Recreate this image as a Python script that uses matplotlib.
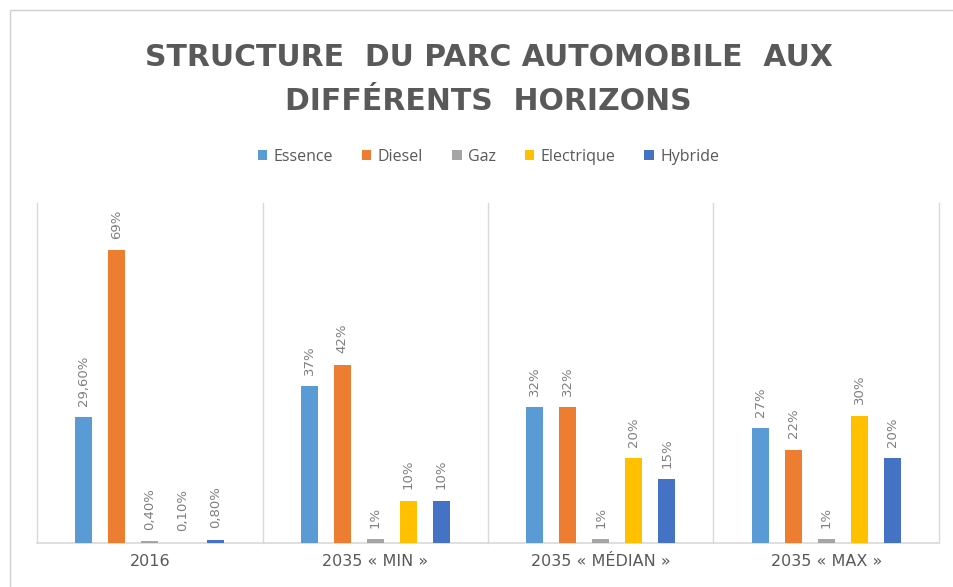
import numpy as np
import matplotlib.pyplot as plt
from matplotlib.patches import Rectangle

# Parts du parc automobile (%) par horizon
HORIZONS = ["2016", "2035 « MIN »", "2035 « MÉDIAN »", "2035 « MAX »"]
ENERGIES = ["Essence", "Diesel", "Gaz", "Electrique", "Hybride"]
ESSENCE = [29.6, 37, 32, 27]
DIESEL = [69, 42, 32, 22]
GAZ = [0.4, 1, 1, 1]
ELECTRIQUE = [0.1, 10, 20, 30]
HYBRIDE = [0.8, 10, 15, 20]
LABELS = [
    ["29,60%", "37%", "32%", "27%"],
    ["69%", "42%", "32%", "22%"],
    ["0,40%", "1%", "1%", "1%"],
    ["0,10%", "10%", "20%", "30%"],
    ["0,80%", "10%", "15%", "20%"],
]
COLORS = ["#5B9BD5", "#ED7D31", "#A5A5A5", "#FFC000", "#4472C4"]

TEXT = "#595959"
GRID = "#D9D9D9"

fig = plt.figure(figsize=(9.54, 5.87), dpi=100)
plt.rcParams["font.family"] = ["Open Sans", "DejaVu Sans"]

# cadre du graphique
fig.patches.append(Rectangle((10 / 954, -0.1), 1.2, 1 - 10 / 587 + 0.1,
                             transform=fig.transFigure, fill=False,
                             edgecolor="#D0D0D0", linewidth=1.0))

ax = fig.add_axes([37 / 954, 1 - 543 / 587, (939 - 37) / 954, (543 - 203) / 587])

series = [ESSENCE, DIESEL, GAZ, ELECTRIQUE, HYBRIDE]
x = np.arange(len(HORIZONS))
step = 0.146
width = 0.076

for i, (name, vals) in enumerate(zip(ENERGIES, series)):
    pos = x + (i - 2) * step
    bars = ax.bar(pos, vals, width, color=COLORS[i], label=name, zorder=3)
    for b, lab in zip(bars, LABELS[i]):
        ax.annotate(lab, (b.get_x() + b.get_width() / 2, b.get_height()),
                    xytext=(0, 8), textcoords="offset points",
                    rotation=90, ha="center", va="bottom",
                    fontsize=9.5, color="#7F7F7F", family="DejaVu Sans")

ax.set_xlim(-0.5, len(HORIZONS) - 0.5)
ax.set_ylim(0, 80)
# séparateurs entre horizons
for xv in np.arange(-0.5, len(HORIZONS), 1.0):
    ax.axvline(xv, color=GRID, linewidth=1.0, zorder=1, clip_on=False)
ax.axhline(0, color=GRID, linewidth=1.2, zorder=2, clip_on=False)

for s in ax.spines.values():
    s.set_visible(False)
ax.set_yticks([])
ax.set_xticks(x)
ax.set_xticklabels(HORIZONS, fontsize=11.5, color=TEXT, family="DejaVu Sans")
ax.tick_params(axis="x", length=0, pad=8)

title_kw = dict(ha="center", va="center", fontsize=21.5, fontweight="bold",
                color=TEXT, family="DejaVu Sans")
fig.text(0.512, 1 - 58 / 587, "STRUCTURE  DU PARC AUTOMOBILE  AUX", **title_kw)
fig.text(0.512, 1 - 101 / 587, "DIFFÉRENTS  HORIZONS", **title_kw)

leg = fig.legend(loc="center", bbox_to_anchor=(0.512, 1 - 157 / 587), ncol=5,
                 frameon=False, fontsize=11.5, handlelength=0.6, handleheight=0.6,
                 handletextpad=0.4, columnspacing=1.8)
for t in leg.get_texts():
    t.set_color(TEXT)

fig.savefig("out.png", dpi=100)
